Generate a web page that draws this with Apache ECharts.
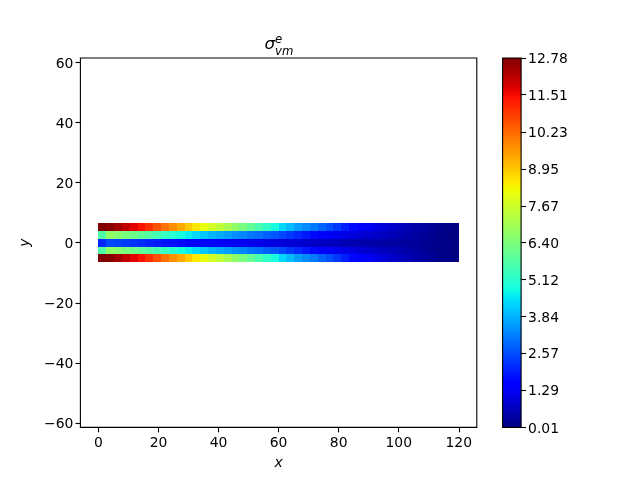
<!DOCTYPE html>
<html><head><meta charset="utf-8">
<style>html,body{margin:0;padding:0;background:#fff}#c{width:640px;height:480px}</style>
<script src="https://cdn.jsdelivr.net/npm/echarts@6/dist/echarts.min.js"></script>
</head><body><div id="c"></div>
<script>
const xTicks=[0,20,40,60,80,100,120];
const yTicks=[-60,-40,-20,0,20,40,60];
const colorTicks=[0.01,1.29,2.57,3.84,5.12,6.40,7.67,8.95,10.23,11.51,12.78];
const rowEdgesY=[6.5,3.9,1.3,-1.3,-3.9,-6.5];
const columnCount=46;
const xMaxData=120;
const outerRow=[12.78,12.7,12.42,12.07,11.7,11.4,10.98,10.55,10.1,9.68,9.33,8.9,8.5,8.08,7.75,7.45,7.09,6.71,6.35,6.0,5.6,5.2,4.85,4.3,3.95,3.6,3.35,3.15,2.85,2.6,2.3,2.0,1.7,1.5,1.3,1.15,1.0,0.85,0.72,0.6,0.48,0.38,0.28,0.18,0.1,0.03];
const innerRow=[5.7,6.7,6.55,6.35,6.15,5.95,5.75,5.55,5.3,5.05,4.85,4.6,4.35,4.1,3.9,3.75,3.6,3.4,3.3,3.1,3.0,2.8,2.7,2.5,2.3,2.1,1.9,1.7,1.55,1.35,1.25,1.15,1.05,0.95,0.88,0.8,0.7,0.62,0.55,0.47,0.38,0.3,0.2,0.12,0.07,0.02];
const centerRow=[2.05,2.5,2.45,2.35,2.25,2.15,2.05,1.95,1.85,1.78,1.7,1.62,1.55,1.5,1.45,1.4,1.35,1.3,1.27,1.22,1.18,1.12,1.06,1.0,0.95,0.9,0.85,0.8,0.75,0.7,0.65,0.6,0.56,0.52,0.48,0.45,0.42,0.4,0.38,0.35,0.3,0.25,0.2,0.15,0.1,0.05];
const rows=[outerRow,innerRow,centerRow,innerRow,outerRow];
const vMin=0.01,vMax=12.78;

function lerp(p,t){for(let i=1;i<p.length;i++){if(t<=p[i][0]){const a=p[i-1],b=p[i];return a[1]+(b[1]-a[1])*(t-a[0])/(b[0]-a[0]);}}return p[p.length-1][1];}
const R=[[0,0],[0.35,0],[0.66,1],[0.89,1],[1,0.5]],G=[[0,0],[0.125,0],[0.375,1],[0.64,1],[0.91,0],[1,0]],B=[[0,0.5],[0.11,1],[0.34,1],[0.65,0],[1,0]];
function jet(t){t=Math.max(0,Math.min(1,t));return 'rgb('+[R,G,B].map(p=>Math.round(255*lerp(p,t))).join(',')+')';}
const cells=[];
rows.forEach((r,j)=>r.forEach((v,i)=>cells.push([i,j,v])));
const dx=xMaxData/columnCount;
const stops=[];for(let i=0;i<=128;i++)stops.push({offset:i/128,color:jet(1-i/128)});
const F='"DejaVu Sans"',S=13.9;
const ax={axisLine:{show:false,onZero:false},splitLine:{show:false}};
const tick={length:4.9,lineStyle:{color:'#000',width:1.1}};
const titleBase={fontFamily:F,fontStyle:'italic',fontWeight:'normal',color:'#000'};
const shifted={a:{fontFamily:F,fontSize:S,color:'#000',padding:[3,0,0,0]}};
const chart=echarts.init(document.getElementById('c'),null,{renderer:'canvas'});
chart.setOption({
 animation:false,backgroundColor:'#fff',
 title:[
  {text:'σ',padding:0,left:264.5,top:36,textStyle:{...titleBase,fontSize:16.7}},
  {text:'e',padding:0,left:275,top:34,textStyle:{...titleBase,fontSize:11.7}},
  {text:'vm',padding:0,left:275,top:46,textStyle:{...titleBase,fontSize:11.7}}
 ],
 grid:[
  {left:80.4,top:58,width:396.4,height:369.4,show:true,borderColor:'#000',borderWidth:1.1,backgroundColor:'transparent'},
  {left:502.6,top:58,width:18.5,height:369.4}
 ],
 xAxis:[
  {...ax,type:'value',gridIndex:0,min:-6,max:126,position:'bottom',name:'x',nameLocation:'middle',nameGap:29,
   nameTextStyle:{fontFamily:F,fontStyle:'italic',fontSize:S,color:'#000'},
   axisTick:{...tick,customValues:xTicks},axisLabel:{customValues:xTicks,fontFamily:F,fontSize:S,color:'#000',margin:9,formatter:v=>String(v)}},
  {...ax,type:'value',gridIndex:1,min:0,max:1,show:false}
 ],
 yAxis:[
  {...ax,type:'value',gridIndex:0,min:-61.48,max:61.48,position:'left',name:'y',nameLocation:'middle',nameGap:48,nameRotate:90,
   nameTextStyle:{fontFamily:F,fontStyle:'italic',fontSize:S,color:'#000'},
   axisTick:{...tick,customValues:yTicks},axisLabel:{customValues:yTicks,fontFamily:F,fontSize:S,color:'#000',margin:7,rich:shifted,formatter:v=>'{a|'+String(v).replace('-','\u2212')+'}'}},
  {...ax,type:'value',gridIndex:1,position:'right',min:vMin,max:vMax,
   axisTick:{...tick,customValues:colorTicks},axisLabel:{customValues:colorTicks,fontFamily:F,fontSize:S,color:'#000',margin:7,rich:shifted,formatter:v=>'{a|'+v.toFixed(2)+'}'}}
 ],
 series:[
  {type:'custom',xAxisIndex:0,yAxisIndex:0,data:cells,silent:true,clip:false,
   renderItem(p,api){
    const i=api.value(0),j=api.value(1),v=api.value(2);
    const a=api.coord([i*dx,rowEdgesY[j]]),b=api.coord([(i+1)*dx,rowEdgesY[j+1]]);
    const x0=Math.round(a[0]),x1=Math.round(b[0]),y0=Math.round(a[1]),y1=Math.round(b[1]);
    return {type:'rect',shape:{x:x0,y:y0,width:x1-x0,height:y1-y0},
     style:{fill:jet((v-vMin)/(vMax-vMin))}};
   }},
  {type:'custom',xAxisIndex:1,yAxisIndex:1,data:[[0,vMin,1,vMax]],silent:true,clip:false,
   renderItem(p,api){
    const a=api.coord([0,vMax]),b=api.coord([1,vMin]);
    return {type:'rect',shape:{x:a[0],y:a[1],width:b[0]-a[0],height:b[1]-a[1]},
     style:{fill:new echarts.graphic.LinearGradient(0,0,0,1,stops),stroke:'#000',lineWidth:1.1}};
   }}
 ]
});
</script></body></html>
